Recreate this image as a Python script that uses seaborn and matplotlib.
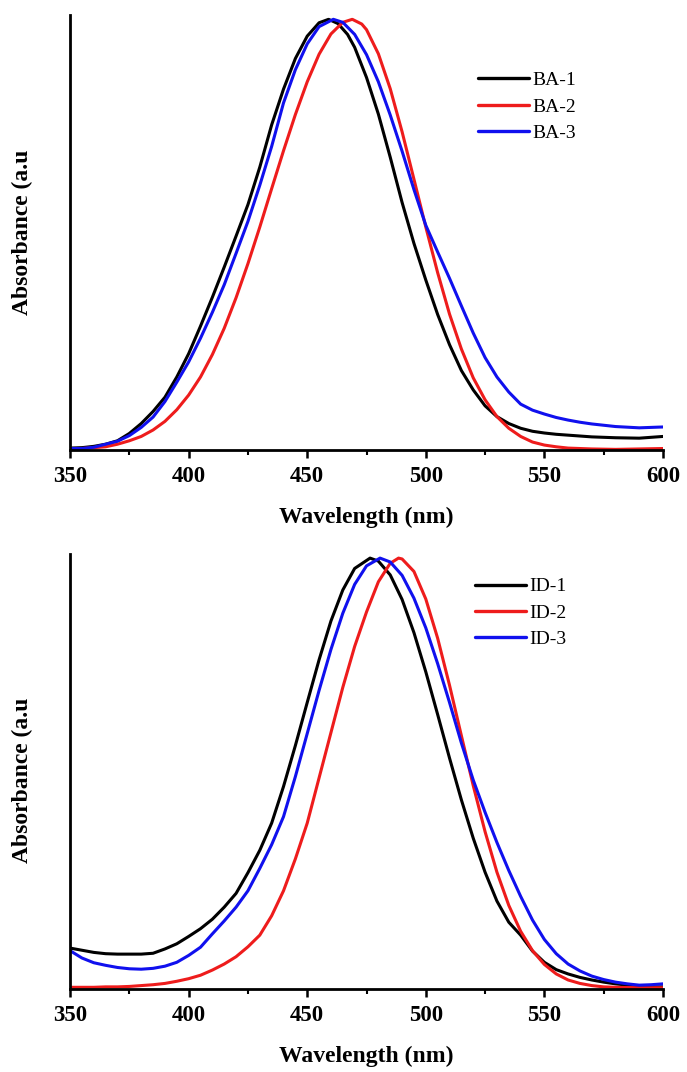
import numpy as np
import pandas as pd
import matplotlib
matplotlib.use("Agg")
import matplotlib.pyplot as plt
import seaborn as sns
from matplotlib.ticker import MultipleLocator

# ---------------- data (normalised absorbance) ----------------
ba1_x = [350, 355, 360, 365, 370, 375, 380, 385, 390, 395, 400, 405, 410, 415, 420, 425, 430, 435, 440, 445, 450, 455, 459,
         463, 467, 470, 475, 480, 485, 490, 495, 500, 505, 510, 515, 520, 525, 530, 535, 540, 545, 550, 555, 560, 570, 580, 590, 600]
ba1_y = [0.005, 0.006, 0.009, 0.014, 0.022, 0.039, 0.062, 0.090, 0.123, 0.170, 0.224, 0.288, 0.355, 0.425, 0.497, 0.570, 0.657,
         0.755, 0.838, 0.909, 0.961, 0.992, 1.0,
         0.99, 0.965, 0.935, 0.865, 0.78, 0.68, 0.575, 0.48, 0.395, 0.315, 0.245, 0.185, 0.14, 0.103, 0.078, 0.062, 0.051,
         0.044, 0.040, 0.037, 0.035, 0.031, 0.029, 0.028, 0.032]

ba2_x = [350, 355, 360, 365, 370, 375, 380, 385, 390, 395, 400, 405, 410, 415, 420, 425, 430, 435, 440, 445, 450, 455, 460, 465, 469,
         473, 475, 480, 485, 490, 495, 500, 505, 510, 515, 520, 525, 530, 535, 540, 545, 550, 555, 560, 570, 580, 590, 600]
ba2_y = [0.004, 0.004, 0.006, 0.008, 0.014, 0.022, 0.032, 0.047, 0.067, 0.094, 0.128, 0.170, 0.222, 0.283, 0.354, 0.433, 0.518,
         0.607, 0.695, 0.779, 0.855, 0.919, 0.966, 0.993, 1.0,
         0.989, 0.976, 0.920, 0.839, 0.739, 0.629, 0.518, 0.412, 0.316, 0.235, 0.168, 0.117, 0.078, 0.051, 0.032, 0.019,
         0.012, 0.008, 0.005, 0.003, 0.002, 0.003, 0.004]

ba3_x = [350, 355, 360, 365, 370, 375, 380, 385, 390, 395, 400, 405, 410, 415, 420, 425, 430, 435, 440, 445, 450, 455, 461,
         465, 470, 475, 480, 485, 490, 495, 500, 505, 510, 515, 520, 525, 530, 535, 540, 545, 550, 555, 560, 565, 570, 575, 580, 590, 600]
ba3_y = [0.004, 0.004, 0.007, 0.014, 0.021, 0.034, 0.053, 0.077, 0.113, 0.158, 0.205, 0.26, 0.32, 0.384, 0.457, 0.531, 0.615,
         0.705, 0.806, 0.883, 0.943, 0.983, 1.0,
         0.993, 0.965, 0.918, 0.855, 0.778, 0.694, 0.605, 0.522, 0.46, 0.399, 0.335, 0.272, 0.215, 0.17, 0.135, 0.107,
         0.093, 0.084, 0.076, 0.07, 0.065, 0.061, 0.058, 0.055, 0.052, 0.054]

id1_x = [350, 355, 360, 365, 370, 375, 380, 385, 390, 395, 400, 405, 410, 415, 420, 425, 430, 435, 440, 445, 450, 455, 460, 465, 470, 476.5,
         480, 485, 490, 495, 500, 505, 510, 515, 520, 525, 530, 535, 540, 545, 550, 555, 560, 565, 570, 575, 580, 585, 590, 595, 600]
id1_y = [0.095, 0.09, 0.085, 0.082, 0.081, 0.081, 0.081, 0.083, 0.093, 0.105, 0.122, 0.14, 0.162, 0.19, 0.222, 0.27, 0.322, 0.385,
         0.47, 0.565, 0.665, 0.764, 0.854, 0.926, 0.976, 1.0,
         0.993, 0.961, 0.904, 0.827, 0.736, 0.637, 0.536, 0.439, 0.350, 0.271, 0.204, 0.155, 0.125, 0.088, 0.062, 0.045,
         0.035, 0.027, 0.021, 0.016, 0.012, 0.009, 0.007, 0.005, 0.005]

id2_x = [350, 355, 360, 365, 370, 375, 380, 385, 390, 395, 400, 405, 410, 415, 420, 425, 430, 435, 440, 445, 450, 455, 460, 465, 470, 475, 480, 485, 488.5,
         490, 495, 500, 505, 510, 515, 520, 525, 530, 535, 540, 545, 550, 555, 560, 565, 570, 575, 580, 590, 600]
id2_y = [0.004, 0.004, 0.004, 0.005, 0.005, 0.006, 0.008, 0.010, 0.013, 0.018, 0.024, 0.032, 0.044, 0.058, 0.075, 0.098, 0.125,
         0.17, 0.228, 0.302, 0.385, 0.49, 0.595, 0.70, 0.795, 0.875, 0.945, 0.988, 1.0,
         0.998, 0.969, 0.905, 0.814, 0.705, 0.588, 0.472, 0.365, 0.271, 0.194, 0.134, 0.089, 0.057, 0.035, 0.021, 0.013,
         0.008, 0.005, 0.004, 0.003, 0.003]

id3_x = [350, 355, 360, 365, 370, 375, 380, 385, 390, 395, 400, 405, 410, 415, 420, 425, 430, 435, 440, 445, 450, 455, 460, 465, 470, 475, 480.7,
         485, 490, 495, 500, 505, 510, 515, 520, 525, 530, 535, 540, 545, 550, 555, 560, 565, 570, 575, 580, 585, 590, 595, 600]
id3_y = [0.089, 0.072, 0.061, 0.055, 0.05, 0.047, 0.046, 0.048, 0.053, 0.062, 0.078, 0.097, 0.128, 0.158, 0.19, 0.228, 0.28, 0.335,
         0.40, 0.493, 0.593, 0.693, 0.788, 0.872, 0.939, 0.982, 1.0,
         0.991, 0.96, 0.907, 0.838, 0.755, 0.665, 0.571, 0.485, 0.41, 0.34, 0.275, 0.215, 0.16, 0.115, 0.082, 0.058, 0.042,
         0.03, 0.022, 0.016, 0.012, 0.009, 0.01, 0.012]

top_labels = ["BA-1", "BA-2", "BA-3"]
bot_labels = ["ID-1", "ID-2", "ID-3"]
colors = ["#000000", "#ee1c1c", "#1010ee"]
xticks = [350, 400, 450, 500, 550, 600]


def long_df(series, labels):
    frames = []
    for (x, y), lab in zip(series, labels):
        frames.append(pd.DataFrame({"Wavelength": x, "Absorbance": y, "Sample": lab}))
    return pd.concat(frames, ignore_index=True)


df_top = long_df([(ba1_x, ba1_y), (ba2_x, ba2_y), (ba3_x, ba3_y)], top_labels)
df_bot = long_df([(id1_x, id1_y), (id2_x, id2_y), (id3_x, id3_y)], bot_labels)

sns.set_theme(style="white")
plt.rcParams["font.family"] = ["Liberation Serif", "DejaVu Serif"]
plt.rcParams["text.color"] = "black"
plt.rcParams["axes.labelcolor"] = "black"
plt.rcParams["xtick.color"] = "black"
plt.rcParams["ytick.color"] = "black"

fig = plt.figure(figsize=(6.87, 10.72), dpi=100)
ax1 = fig.add_axes([0.102, 0.580, 0.863, 0.406])
ax2 = fig.add_axes([0.102, 0.0774, 0.863, 0.406])

for ax, df, labels in [(ax1, df_top, top_labels), (ax2, df_bot, bot_labels)]:
    sns.lineplot(data=df, x="Wavelength", y="Absorbance", hue="Sample", hue_order=labels,
                 palette=colors, linewidth=2.2, ax=ax, legend=False, sort=True,
                 estimator=None)
    ax.set_xlim(350, 600)
    ax.set_ylim(0, 1.01)
    ax.set_xticks(xticks)
    ax.set_xticklabels([str(t) for t in xticks], fontsize=16.5, fontweight="bold")
    ax.xaxis.set_minor_locator(MultipleLocator(25))
    ax.set_yticks([])
    ax.tick_params(axis="x", which="major", direction="out", length=5.5, width=1.8, pad=6, bottom=True)
    ax.tick_params(axis="x", which="minor", direction="out", length=3.5, width=1.5, bottom=True)
    for s in ["top", "right"]:
        ax.spines[s].set_visible(False)
    for s in ["left", "bottom"]:
        ax.spines[s].set_linewidth(2.0)
        ax.spines[s].set_color("black")
    ax.set_xlabel("Wavelength (nm)", fontsize=17, fontweight="bold", labelpad=14)
    ax.set_ylabel("Absorbance (a.u", fontsize=17, fontweight="bold", labelpad=26)
    handles = [plt.Line2D([], [], color=c, lw=2.4) for c in colors]
    ax.legend(handles, labels, loc="upper left", frameon=False, fontsize=14,
              handlelength=2.6, handletextpad=0.2, labelspacing=0.45,
              borderaxespad=0.0, borderpad=0.0)

ax1.get_legend().set_bbox_to_anchor((0.688, 0.87))
ax2.get_legend().set_bbox_to_anchor((0.683, 0.945))
ax1.yaxis.set_label_coords(-0.062, 0.5)
ax2.yaxis.set_label_coords(-0.062, 0.48)

fig.savefig("out.png", dpi=100)
